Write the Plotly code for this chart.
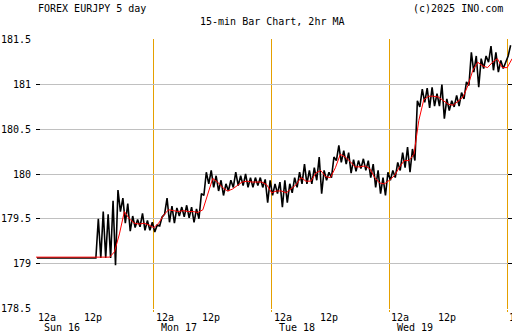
import plotly.graph_objects as go
import pandas as pd

# ---------------- data ----------------
start = "2025-11-16 00:00"          # Sun 16, 12a
hours = list(range(97))              # hourly bars, hours after start

bar_low = [179.06] * 12 + [
    179.06, 179.06, 179.06, 179.06, 178.98, 179.58, 179.45, 179.36, 179.40, 179.41,
    179.37, 179.37, 179.35, 179.42, 179.55, 179.46, 179.45, 179.53, 179.52, 179.51,
    179.46, 179.50, 179.76, 179.89, 179.85, 179.81, 179.76, 179.81, 179.85, 179.87,
    179.87, 179.85, 179.85, 179.87, 179.85, 179.68, 179.76, 179.78, 179.63, 179.68,
    179.79, 179.85, 179.89, 179.89, 179.89, 179.93, 179.78, 179.93, 179.96, 180.15,
    180.13, 180.11, 180.01, 180.03, 180.06, 180.04, 179.96, 179.85, 179.78, 179.76,
    179.93, 179.96, 180.04, 180.07, 180.02, 180.15, 180.75, 180.80, 180.74, 180.76,
    180.76, 180.62, 180.71, 180.75, 180.76, 180.84, 180.99, 181.14, 180.97, 181.18,
    181.25, 181.16, 181.14, 181.18, 181.32]

bar_high = [179.06] * 12 + [
    179.50, 179.58, 179.55, 179.70, 179.82, 179.73, 179.67, 179.53, 179.49, 179.56,
    179.48, 179.46, 179.43, 179.52, 179.73, 179.64, 179.62, 179.63, 179.65, 179.63,
    179.61, 179.78, 180.02, 180.04, 179.98, 179.93, 179.89, 179.93, 180.02, 179.98,
    180.00, 179.96, 179.96, 179.96, 179.94, 179.93, 179.89, 179.91, 179.93, 179.89,
    179.96, 180.02, 180.11, 180.04, 180.07, 180.19, 180.04, 180.02, 180.19, 180.32,
    180.26, 180.24, 180.16, 180.15, 180.17, 180.15, 180.11, 180.04, 179.96, 180.02,
    180.04, 180.13, 180.24, 180.30, 180.28, 180.82, 180.95, 180.96, 180.97, 180.90,
    181.00, 180.84, 180.82, 180.88, 180.91, 181.03, 181.36, 181.32, 181.29, 181.32,
    181.43, 181.36, 181.27, 181.25, 181.44]

ma_hours = list(range(98))
ma_vals = [179.07] * 16 + [
    179.13, 179.33, 179.58, 179.50, 179.45, 179.44, 179.45, 179.43, 179.40, 179.45,
    179.54, 179.60, 179.59, 179.58, 179.59, 179.58, 179.58, 179.57, 179.60, 179.78,
    179.95, 179.91, 179.85, 179.81, 179.83, 179.87, 179.91, 179.92, 179.91, 179.91,
    179.91, 179.88, 179.79, 179.81, 179.81, 179.79, 179.84, 179.88, 179.96, 179.92,
    179.92, 180.01, 180.04, 179.97, 179.96, 180.07, 180.22, 180.19, 180.14, 180.08,
    180.08, 180.09, 180.06, 179.96, 179.90, 179.89, 179.93, 179.98, 180.07, 180.15,
    180.15, 180.22, 180.60, 180.83, 180.87, 180.87, 180.86, 180.82, 180.78, 180.77,
    180.81, 180.86, 180.99, 181.16, 181.25, 181.21, 181.19, 181.25, 181.29, 181.19,
    181.19, 181.29]

y_ticks = [178.5, 179.0, 179.5, 180.0, 180.5, 181.0, 181.5]
y_ticktext = ["178.5", "179", "179.5", "180", "180.5", "181", "181.5"]
day_labels = ["Sun 16", "Mon 17", "Tue 18", "Wed 19"]

# ---------------- build ----------------
t0 = pd.Timestamp(start)
H = pd.Timedelta(hours=1)

bx, by = [], []
for h, lo, hi in zip(hours, bar_low, bar_high):
    bx += [t0 + H * (h + 0.2), t0 + H * (h + 0.7)]
    by += [lo, hi]

ma_x = [t0 + H * h for h in ma_hours]

FONT = "DejaVu Sans Mono"
ORANGE = "#e5a000"

fig = go.Figure()
fig.add_trace(go.Scatter(x=bx, y=by, mode="lines",
                         line=dict(color="black", width=1.6), hoverinfo="skip"))
fig.add_trace(go.Scatter(x=ma_x, y=ma_vals, mode="lines",
                         line=dict(color="#ff0000", width=1), hoverinfo="skip"))

day_marks = [t0 + pd.Timedelta(days=d) for d in range(1, 5)]

fig.update_layout(
    width=512, height=335, autosize=False,
    margin=dict(l=36, r=0, t=39, b=26, pad=0),
    paper_bgcolor="white", plot_bgcolor="white",
    showlegend=False,
    font=dict(family=FONT, size=10, color="black"),
    xaxis=dict(type="date", range=[t0, t0 + H * 96.98],
               tickmode="array", tickvals=day_marks, showticklabels=False,
               showgrid=True, gridcolor=ORANGE, gridwidth=1,
               ticks="outside", ticklen=2, tickcolor=ORANGE,
               zeroline=False, showline=False),
    yaxis=dict(range=[178.49, 181.51], tickmode="array",
               tickvals=y_ticks, ticktext=y_ticktext,
               showgrid=True, gridcolor="#c0c0c0", gridwidth=1,
               ticks="inside", ticklen=4, tickcolor="black",
               mirror="ticks", ticklabelstandoff=4,
               zeroline=False, showline=False,
               tickfont=dict(family=FONT, size=10, color="black")),
)

ann = []
ann.append(dict(text="FOREX EURJPY 5 day", xref="paper", yref="paper",
                x=0.0, y=1.113, xanchor="left", yanchor="middle", showarrow=False))
ann.append(dict(text="(c)2025 INO.com", xref="paper", yref="paper",
                x=0.985, y=1.113, xanchor="right", yanchor="middle", showarrow=False))
ann.append(dict(text="15-min Bar Chart, 2hr MA", xref="paper", yref="paper",
                x=0.4958, y=1.064, xanchor="center", yanchor="middle", showarrow=False))

for d in range(5):
    day = t0 + pd.Timedelta(days=d)
    ann.append(dict(text="12a", xref="x", yref="paper", x=day, y=-0.0315,
                    xanchor="left", yanchor="middle", showarrow=False))
    if d < 4:
        ann.append(dict(text="12p", xref="x", yref="paper", x=day + H * 12, y=-0.0315,
                        xanchor="center", xshift=-1.5, yanchor="middle", showarrow=False))
        ann.append(dict(text=day_labels[d], xref="x", yref="paper", x=day, y=-0.0667,
                        xanchor="left", xshift=5.5, yanchor="middle", showarrow=False))

fig.update_layout(annotations=ann)
fig.write_html("out.html")
